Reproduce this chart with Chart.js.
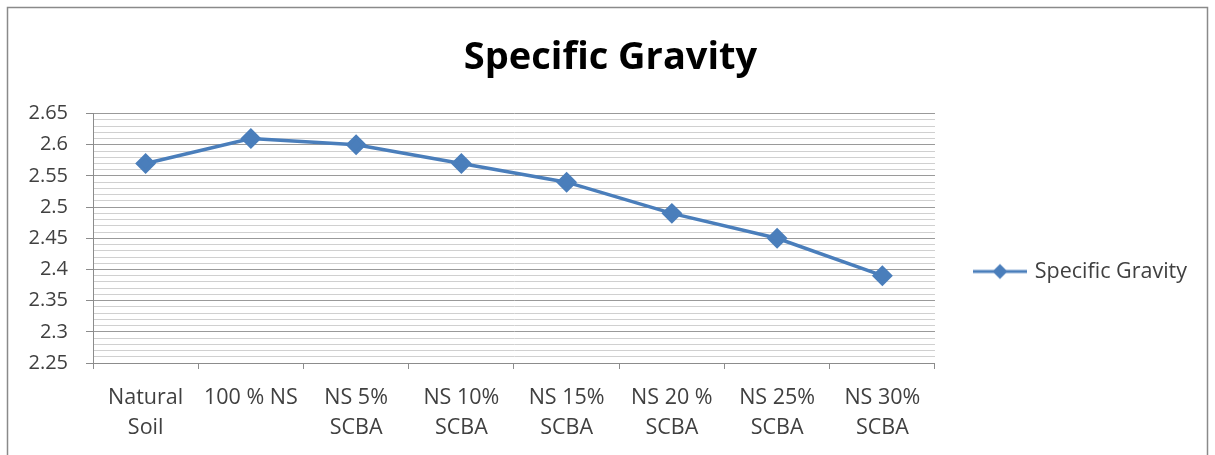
<!DOCTYPE html>
<html>
<head>
<meta charset="utf-8">
<script src="https://cdn.jsdelivr.net/npm/chart.js@4/dist/chart.umd.min.js"></script>
<style>
  html, body { margin: 0; padding: 0; background: #ffffff; }
  #wrap { position: relative; width: 1215px; height: 455px; }
</style>
</head>
<body>
<div id="wrap"><canvas id="chart" width="1215" height="455"></canvas></div>
<script>
// Soil mixes on the category axis (multi-line labels)
const categories = [
  ['Natural', 'Soil'],
  ['100 % NS'],
  ['NS 5%', 'SCBA'],
  ['NS 10%', 'SCBA'],
  ['NS 15%', 'SCBA'],
  ['NS 20 %', 'SCBA'],
  ['NS 25%', 'SCBA'],
  ['NS 30%', 'SCBA']
];
const seriesName = 'Specific Gravity';
const specificGravity = [2.57, 2.61, 2.60, 2.57, 2.54, 2.49, 2.45, 2.39];
const yMin = 2.25;
const yMax = 2.65;
const yMajorStep = 0.05;
const yMinorStep = 0.01;

const lineColor = '#4a7ebb';
const textColor = '#404040';
const fontFamily = '"Open Sans", "Noto Sans", "Liberation Sans", sans-serif';

// true for the labelled 0.05 steps, false for the 0.01 minor steps
function isMajor(value) {
  return Math.round(value * 100) % Math.round(yMajorStep * 100) === 0;
}

// Legend swatch: a short line with a diamond marker in the middle
function legendSwatch() {
  const c = document.createElement('canvas');
  c.width = 54; c.height = 18;
  const g = c.getContext('2d');
  g.strokeStyle = lineColor;
  g.lineWidth = 3;
  g.beginPath(); g.moveTo(0, 9); g.lineTo(54, 9); g.stroke();
  g.fillStyle = lineColor;
  g.beginPath(); g.moveTo(27, 1.5); g.lineTo(34.5, 9); g.lineTo(27, 16.5); g.lineTo(19.5, 9); g.closePath(); g.fill();
  return c;
}

// White page and the outer chart frame
const framePlugin = {
  id: 'frame',
  beforeDraw(chart) {
    const ctx = chart.ctx;
    ctx.save();
    ctx.fillStyle = '#ffffff';
    ctx.fillRect(0, 0, chart.width, chart.height);
    ctx.strokeStyle = '#8a8a8a';
    ctx.lineWidth = 1.5;
    ctx.beginPath();
    ctx.moveTo(7.5, chart.height + 5);
    ctx.lineTo(7.5, 7.5);
    ctx.lineTo(1207.5, 7.5);
    ctx.lineTo(1207.5, chart.height + 5);
    ctx.stroke();
    ctx.restore();
  }
};

new Chart(document.getElementById('chart'), {
  type: 'line',
  data: {
    labels: categories,
    datasets: [{
      label: seriesName,
      data: specificGravity,
      borderColor: lineColor,
      backgroundColor: lineColor,
      borderWidth: 3.5,
      pointStyle: 'rectRot',
      pointRadius: 8,
      pointHoverRadius: 8,
      pointBackgroundColor: lineColor,
      pointBorderColor: lineColor,
      tension: 0,
      fill: false
    }]
  },
  options: {
    responsive: false,
    animation: false,
    events: [],
    layout: { padding: { left: 24, right: 18, top: 28, bottom: 0 } },
    plugins: {
      title: {
        display: true,
        text: seriesName,
        color: '#000000',
        font: { family: fontFamily, size: 38, weight: 'bold', lineHeight: 1.2 },
        padding: { top: 7, bottom: 33 }
      },
      legend: {
        display: true,
        position: 'right',
        title: {
          display: true,
          text: '',
          font: { size: 10, lineHeight: 1 },
          padding: { top: 50, bottom: 0 }
        },
        labels: {
          usePointStyle: true,
          pointStyle: legendSwatch(),
          pointStyleWidth: 48,
          boxHeight: 18,
          padding: 41,
          color: textColor,
          font: { family: fontFamily, size: 21.5 }
        }
      },
      tooltip: { enabled: false }
    },
    scales: {
      x: {
        type: 'category',
        offset: true,
        border: { display: true, color: '#8c8c8c', width: 1 },
        grid: {
          offset: true,
          drawOnChartArea: false,
          drawTicks: true,
          tickLength: 6,
          color: '#8c8c8c'
        },
        ticks: {
          color: textColor,
          padding: 14,
          maxRotation: 0,
          autoSkip: false,
          font: { family: fontFamily, size: 21.5, lineHeight: 1.4 }
        },
        afterFit(scale) { scale.height = 92; }
      },
      y: {
        type: 'linear',
        position: 'left',
        min: yMin,
        max: yMax,
        border: { display: true, color: '#8c8c8c', width: 1 },
        grid: {
          color: (ctx) => (ctx.tick && isMajor(ctx.tick.value)) ? '#9a9a9a' : '#d0d0d0',
          tickColor: (ctx) => (ctx.tick && isMajor(ctx.tick.value)) ? '#8c8c8c' : 'rgba(0,0,0,0)',
          lineWidth: 1,
          tickLength: 7
        },
        ticks: {
          stepSize: yMinorStep,
          autoSkip: false,
          color: textColor,
          padding: 18,
          font: { family: fontFamily, size: 20 },
          callback: (v) => isMajor(v) ? String(Math.round(v * 100) / 100) : ''
        },
        afterFit(scale) { scale.width = 69; }
      }
    }
  },
  plugins: [framePlugin]
});
</script>
</body>
</html>
